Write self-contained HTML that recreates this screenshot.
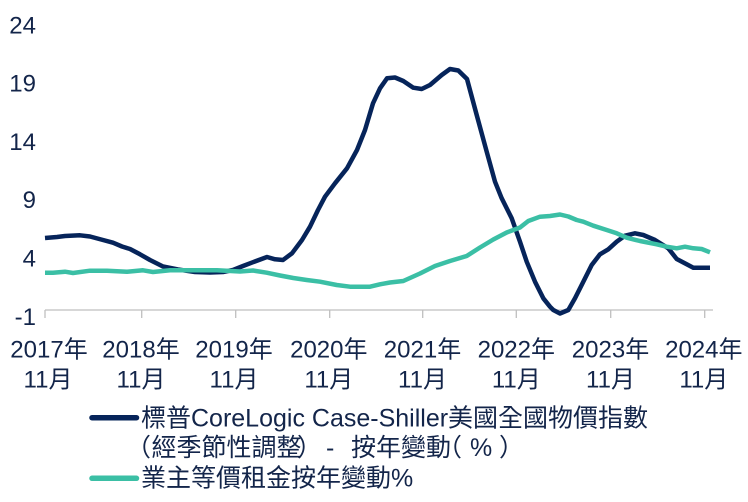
<!DOCTYPE html>
<html>
<head>
<meta charset="utf-8">
<style>
html,body{margin:0;padding:0;background:#fff;}
body{width:748px;height:502px;overflow:hidden;}
svg{display:block;}
text{font-family:"Liberation Sans","Noto Sans CJK TC",sans-serif;fill:#13254a;}
</style>
</head>
<body>
<svg width="748" height="502" viewBox="0 0 748 502" xmlns="http://www.w3.org/2000/svg">
  <!-- Y axis labels -->
  <g font-size="24" text-anchor="end">
    <text x="36" y="33.3">24</text>
    <text x="36" y="91.6">19</text>
    <text x="36" y="149.9">14</text>
    <text x="36" y="208.2">9</text>
    <text x="36" y="266.5">4</text>
    <text x="36" y="324.8">-1</text>
  </g>
  <!-- X axis -->
  <g stroke="#bfbfbf" stroke-width="1.3">
    <line x1="45" y1="310" x2="713" y2="310"/>
    <line x1="45" y1="310" x2="45" y2="318"/>
    <line x1="141.7" y1="310" x2="141.7" y2="318"/>
    <line x1="235.7" y1="310" x2="235.7" y2="318"/>
    <line x1="329.7" y1="310" x2="329.7" y2="318"/>
    <line x1="422.7" y1="310" x2="422.7" y2="318"/>
    <line x1="516.3" y1="310" x2="516.3" y2="318"/>
    <line x1="610.7" y1="310" x2="610.7" y2="318"/>
    <line x1="704.7" y1="310" x2="704.7" y2="318"/>
  </g>
  <g font-size="24" text-anchor="middle">
    <text x="49" y="357.5">2017年</text>
    <text x="141" y="357.5">2018年</text>
    <text x="234" y="357.5">2019年</text>
    <text x="328.8" y="357.5">2020年</text>
    <text x="422.5" y="357.5">2021年</text>
    <text x="516.3" y="357.5">2022年</text>
    <text x="610.5" y="357.5">2023年</text>
    <text x="703.8" y="357.5">2024年</text>
    <text x="48" y="387.5">11月</text>
    <text x="141" y="387.5">11月</text>
    <text x="234" y="387.5">11月</text>
    <text x="328.8" y="387.5">11月</text>
    <text x="422.5" y="387.5">11月</text>
    <text x="516.3" y="387.5">11月</text>
    <text x="610.5" y="387.5">11月</text>
    <text x="703.8" y="387.5">11月</text>
  </g>
  <!-- Dark series -->
  <polyline fill="none" stroke="#06245a" stroke-width="4.5" stroke-linejoin="round" stroke-linecap="butt"
    points="45,238 57,237 65,236 80,235.3 90,236.5 103,240 113,242.7 122,246.5 130,249 140,254.3 150,260 163,266.5 178,269.5 195,272 210,272.5 223,272 233,270 243,266 253,262.2 267,257 275,259.3 283,260 292,253.3 302,240 310,226.7 318,210 325,196.7 335,183.3 347,168.3 357,150 365,130 373,103.3 380,88.3 387,78.3 395,77.5 403.3,81 413.3,87.7 421.7,89 430,85 441.7,75 450,69 458.3,70.5 467,79 476.7,115 486.7,151.7 495,181.7 501.7,198.3 511.7,218.3 520,241.7 526.7,261.7 535,281.7 543.3,298.3 550,306.7 553.3,310 560,313.5 568.3,310 575,298.3 583.3,281.7 591.7,265 600,254.3 608.3,249.3 616.7,241.7 625,235.7 635,233.3 643.3,235 655,240 668.3,248.3 676.7,259 686.7,264.3 693.3,267.7 710,267.7"/>
  <!-- Teal series -->
  <polyline fill="none" stroke="#3bbfa5" stroke-width="4.5" stroke-linejoin="round" stroke-linecap="butt"
    points="45,272.7 53,272.7 65,271.7 73,273 90,270.7 107,270.7 127,271.7 143,270.3 153,272 170,270.3 217,270.3 240,271.5 253,270.5 266.7,272.7 280,275.5 293.3,278 306.7,280 320,281.7 336.7,285 350,286.7 370,286.7 380,284.3 390,282.5 403.3,281 420,273.5 435,266 450,261 466.7,256 480,247.5 493.3,239.5 506.7,232.5 520,227.5 528.3,221 540,216.7 550,216 560,214.5 568.3,216.5 576.7,220 583.3,221.7 593.3,225.7 606.7,230 616.7,233.3 626.7,237.7 640,241 656.7,244.3 666.7,246.7 676.7,248.3 685,246.7 693.3,248.3 701.7,249 710,252.3"/>
  <!-- Legend -->
  <line x1="92" y1="417.7" x2="136.5" y2="417.7" stroke="#06245a" stroke-width="5.5" stroke-linecap="round"/>
  <line x1="92" y1="478.3" x2="136.5" y2="478.3" stroke="#3bbfa5" stroke-width="5.5" stroke-linecap="round"/>
  <g font-size="25">
    <text x="141" y="426.5">標普CoreLogic Case-Shiller美國全國物價指數</text>
    <text x="126" y="456">（</text>
    <text x="151.5" y="456">經季節性調整</text>
    <text x="297" y="456">）</text>
    <text x="326" y="456">-</text>
    <text x="351" y="456">按年變動</text>
    <text x="437" y="456">（</text>
    <text x="470" y="456">%</text>
    <text x="499" y="456">）</text>
    <text x="141" y="486.5">業主等價租金按年變動%</text>
  </g>
</svg>
</body>
</html>
